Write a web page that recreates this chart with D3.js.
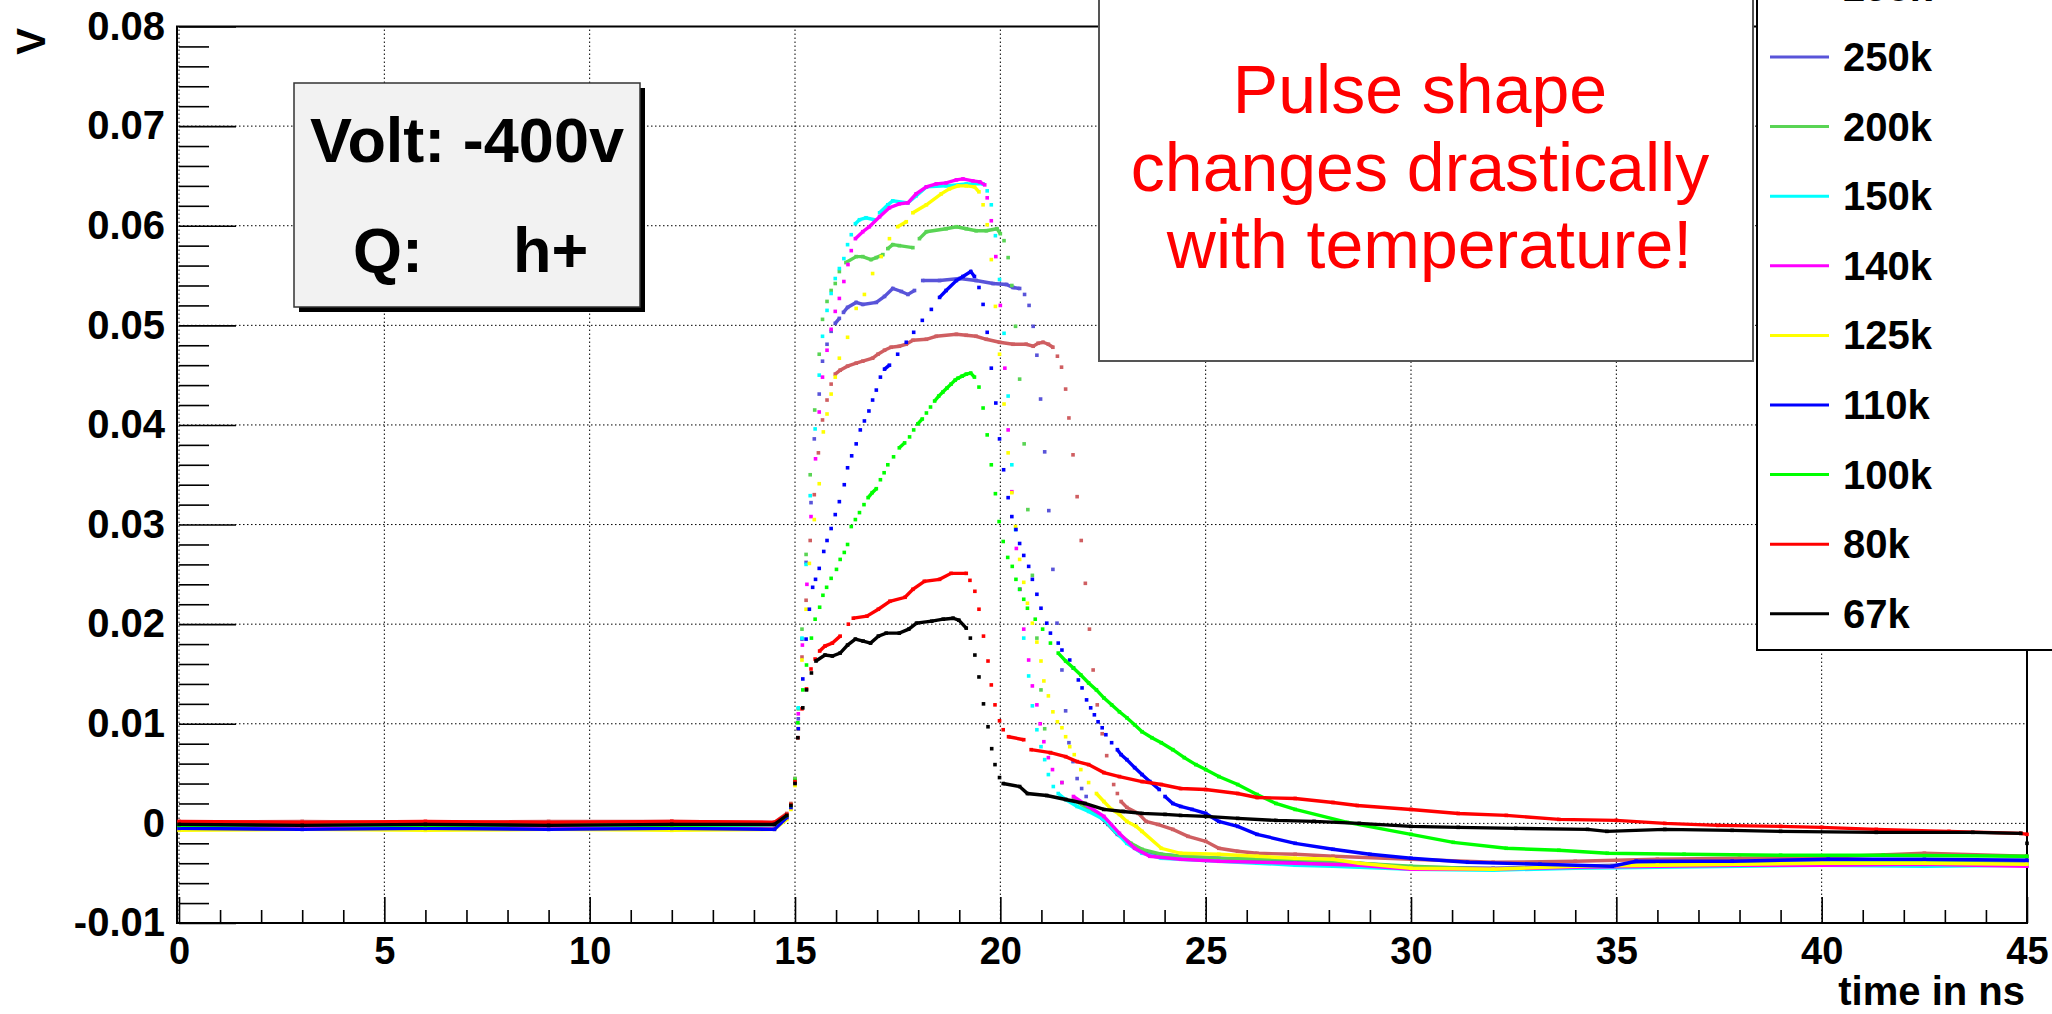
<!DOCTYPE html>
<html lang="en">
<head>
    <meta charset="UTF-8">
    <title>Pulse shape vs temperature</title>
    <script src="https://d3js.org/d3.v7.min.js"></script>
    <style>
        * { margin: 0; padding: 0; }
        body { background: white; overflow: hidden; }
        text { font-family: "Liberation Sans", Arial, Helvetica, sans-serif; }
        .bold { font-weight: bold; }
    </style>
</head>
<body>
<svg id="chart" width="2052" height="1014"></svg>
<script>
// legend order, top to bottom (first entry is cut off by the image border)
const labels = ["295k", "250k", "200k", "150k", "140k", "125k", "110k", "100k", "80k", "67k"];
const colors = ["#cf5e61", "#5954d9", "#59d454", "#00ffff", "#ff00ff", "#ffff00", "#0000ff", "#00ff00", "#ff0000", "#000000"];

const xMajor = [0, 5, 10, 15, 20, 25, 30, 35, 40, 45];
const yMajor = [-0.01, 0, 0.01, 0.02, 0.03, 0.04, 0.05, 0.06, 0.07, 0.08];

// [time in ns, volts]
const d295k = [[0,0.0001],[3,0.0002],[6,0.0001],[9,0.0002],[12,0.0002],[14.5,0.0001],[14.8,0.001],[14.9,0.002],[15.0,0.0045],[15.08,0.0095],[15.17,0.0167],[15.27,0.0224],[15.37,0.0284],[15.47,0.033],[15.57,0.0372],[15.67,0.0405],[15.78,0.0425],[15.88,0.0441],[15.98,0.0451],[16.1,0.0455],[16.28,0.0459],[16.49,0.0462],[16.65,0.0464],[16.89,0.0467],[17.02,0.0471],[17.18,0.0475],[17.34,0.0478],[17.54,0.0479],[17.71,0.0481],[17.87,0.0485],[18.2,0.0486],[18.44,0.0489],[18.93,0.0491],[19.17,0.049],[19.41,0.0489],[19.66,0.0486],[19.98,0.0483],[20.31,0.0481],[20.63,0.0481],[20.8,0.0479],[20.92,0.0482],[21.04,0.0483],[21.17,0.0481],[21.28,0.0478],[21.39,0.0469],[21.49,0.0458],[21.59,0.0436],[21.67,0.0407],[21.77,0.037],[21.87,0.0328],[21.97,0.0284],[22.07,0.0241],[22.17,0.0195],[22.26,0.0154],[22.36,0.0119],[22.48,0.009],[22.59,0.0068],[22.76,0.0039],[22.85,0.003],[22.94,0.0022],[23.08,0.0016],[23.36,0.001],[23.55,0.0002],[23.83,-0.0001],[24.2,-0.0006],[24.57,-0.0013],[25,-0.0018],[25.32,-0.0025],[25.78,-0.0028],[26.25,-0.003],[27.18,-0.0031],[28.1,-0.0033],[30,-0.0036],[32,-0.0039],[34,-0.0038],[36,-0.0036],[38,-0.0035],[40,-0.0034],[42.5,-0.003],[45,-0.0033]];
const d250k = [[0,-0.0002],[3,-0.0003],[6,-0.0002],[9,-0.0003],[12,-0.0002],[14.5,-0.0003],[14.8,0.0008],[14.9,0.0018],[15.0,0.0043],[15.08,0.0105],[15.17,0.0185],[15.27,0.0262],[15.39,0.0322],[15.47,0.0386],[15.59,0.0431],[15.67,0.0464],[15.78,0.0481],[15.88,0.0494],[15.98,0.0502],[16.08,0.0507],[16.18,0.0513],[16.28,0.0518],[16.49,0.0523],[16.65,0.0521],[16.98,0.0523],[17.18,0.0529],[17.38,0.0537],[17.59,0.0534],[17.75,0.0531],[17.91,0.0535],[18.11,0.0545],[18.52,0.0545],[19.01,0.0547],[19.41,0.0545],[19.82,0.0542],[20.15,0.0541],[20.31,0.0538],[20.47,0.0537],[20.59,0.0531],[20.7,0.052],[20.8,0.0499],[20.89,0.047],[20.98,0.0426],[21.08,0.0373],[21.18,0.0314],[21.28,0.0255],[21.38,0.0201],[21.5,0.0154],[21.59,0.0113],[21.67,0.0081],[21.77,0.0062],[21.87,0.0045],[21.98,0.0035],[22.09,0.0027],[22.34,0.001],[22.62,-0.0001],[22.85,-0.0011],[23.27,-0.0023],[23.64,-0.003],[24.39,-0.0033],[25.78,-0.0036],[27.18,-0.0038],[28.74,-0.004],[30,-0.0044],[32,-0.0045],[34,-0.0043],[36,-0.0041],[38,-0.004],[40,-0.004],[42.5,-0.0039],[45,-0.004]];
const d200k = [[0,-0.0001],[3,-0.0002],[6,-0.0001],[9,-0.0002],[12,-0.0001],[14.5,-0.0002],[14.8,0.0008],[14.9,0.0019],[15.0,0.0045],[15.08,0.0115],[15.17,0.0195],[15.27,0.027],[15.37,0.035],[15.48,0.0415],[15.59,0.0471],[15.67,0.0506],[15.78,0.0524],[15.88,0.0535],[15.98,0.0542],[16.08,0.0554],[16.24,0.0563],[16.49,0.0569],[16.65,0.0569],[16.85,0.0566],[16.98,0.0568],[17.14,0.0571],[17.26,0.0577],[17.38,0.0581],[17.54,0.058],[17.87,0.0578],[18.03,0.0587],[18.2,0.0594],[18.68,0.0597],[18.93,0.0599],[19.17,0.0597],[19.41,0.0595],[19.66,0.0595],[19.92,0.0597],[20.0,0.0592],[20.09,0.0585],[20.19,0.0568],[20.28,0.054],[20.37,0.0499],[20.47,0.0446],[20.58,0.0381],[20.67,0.0315],[20.78,0.0249],[20.89,0.0186],[20.99,0.0134],[21.08,0.0095],[21.22,0.0071],[21.5,0.0041],[21.78,0.0024],[22.15,0.0014],[22.52,0.0004],[22.8,-0.0008],[23.18,-0.002],[23.45,-0.0026],[23.92,-0.0031],[24.39,-0.0033],[25.32,-0.0035],[27.18,-0.0036],[28.74,-0.004],[30,-0.0043],[32,-0.0046],[34,-0.0044],[36,-0.0042],[38,-0.004],[40,-0.004],[42.5,-0.0038],[45,-0.0037]];
const d150k = [[0,-0.0004],[3,-0.0005],[6,-0.0004],[9,-0.0005],[12,-0.0004],[14.5,-0.0005],[14.8,0.0006],[14.9,0.0017],[15.0,0.0042],[15.08,0.0116],[15.17,0.0186],[15.27,0.026],[15.37,0.0329],[15.49,0.0396],[15.59,0.045],[15.67,0.0489],[15.78,0.0515],[15.88,0.0532],[15.98,0.0547],[16.08,0.0557],[16.19,0.0567],[16.28,0.0581],[16.37,0.0591],[16.47,0.0602],[16.57,0.0606],[16.73,0.0608],[16.93,0.0606],[17.06,0.0613],[17.26,0.0621],[17.38,0.0625],[17.75,0.0623],[17.95,0.063],[18.2,0.0639],[18.68,0.064],[19.17,0.0642],[19.58,0.0642],[19.68,0.0635],[19.78,0.0621],[19.88,0.059],[19.98,0.0546],[20.09,0.0492],[20.19,0.0429],[20.28,0.036],[20.37,0.0295],[20.47,0.0235],[20.57,0.0186],[20.69,0.0148],[20.78,0.0118],[20.89,0.0094],[20.99,0.0077],[21.08,0.0064],[21.17,0.0049],[21.29,0.0037],[21.41,0.003],[21.59,0.0024],[21.87,0.0017],[22.15,0.0012],[22.52,0.0004],[22.8,-0.0008],[23.08,-0.002],[23.45,-0.003],[23.92,-0.0035],[24.39,-0.0036],[25.32,-0.0038],[26.25,-0.004],[27.18,-0.0042],[28.1,-0.0043],[30,-0.0046],[32,-0.0047],[34,-0.0045],[36,-0.0044],[38,-0.0043],[40,-0.0042],[42.5,-0.0043],[45,-0.0042]];
const d140k = [[0,-0.0006],[3,-0.0005],[6,-0.0006],[9,-0.0005],[12,-0.0006],[14.5,-0.0005],[14.8,0.0005],[14.9,0.0015],[15.0,0.004],[15.08,0.011],[15.18,0.0179],[15.29,0.024],[15.39,0.0308],[15.5,0.0366],[15.59,0.0413],[15.67,0.0448],[15.78,0.0475],[15.88,0.0496],[15.98,0.0514],[16.08,0.0527],[16.19,0.0544],[16.29,0.0561],[16.37,0.0575],[16.47,0.0587],[16.65,0.0594],[16.81,0.0599],[17.06,0.0609],[17.3,0.0618],[17.54,0.0622],[17.75,0.0623],[17.95,0.0632],[18.2,0.0639],[18.44,0.0642],[18.68,0.0643],[18.93,0.0646],[19.09,0.0647],[19.33,0.0645],[19.5,0.0644],[19.62,0.0641],[19.68,0.0628],[19.78,0.0605],[19.89,0.0569],[20.0,0.052],[20.11,0.0457],[20.19,0.0395],[20.28,0.0333],[20.39,0.0276],[20.48,0.0235],[20.57,0.0195],[20.69,0.0164],[20.78,0.0138],[20.89,0.0119],[20.97,0.01],[21.06,0.0082],[21.17,0.0066],[21.27,0.0054],[21.5,0.0041],[21.78,0.0027],[22.15,0.0017],[22.52,0.0007],[22.9,-0.001],[23.27,-0.0025],[23.64,-0.0033],[24.39,-0.0036],[25.32,-0.0038],[27.18,-0.004],[28.74,-0.0042],[30,-0.0046],[32,-0.0046],[34,-0.0044],[36,-0.0043],[38,-0.0042],[40,-0.0042],[42.5,-0.0041],[45,-0.0043]];
const d125k = [[0,-0.0007],[3,-0.0006],[6,-0.0007],[9,-0.0006],[12,-0.0007],[14.5,-0.0006],[14.8,0.0004],[14.9,0.0014],[15.0,0.0038],[15.08,0.0095],[15.17,0.0164],[15.27,0.0215],[15.35,0.0261],[15.47,0.0305],[15.59,0.0341],[15.69,0.0393],[15.78,0.0411],[15.88,0.0431],[15.98,0.0448],[16.08,0.0467],[16.28,0.0488],[16.49,0.0517],[16.69,0.0531],[16.89,0.0552],[17.1,0.0569],[17.3,0.0587],[17.5,0.0599],[17.71,0.0604],[17.87,0.0613],[18.2,0.0621],[18.56,0.0632],[18.76,0.0637],[18.97,0.064],[19.17,0.064],[19.37,0.0639],[19.48,0.0634],[19.58,0.0621],[19.68,0.0601],[19.78,0.0566],[19.88,0.0519],[19.98,0.0471],[20.09,0.0421],[20.19,0.0372],[20.28,0.0332],[20.37,0.0298],[20.47,0.0265],[20.57,0.0242],[20.66,0.0221],[20.78,0.0201],[20.89,0.0182],[20.99,0.0163],[21.06,0.0143],[21.17,0.0128],[21.28,0.0112],[21.39,0.0102],[21.5,0.0096],[21.59,0.0087],[21.69,0.0077],[21.8,0.0069],[21.96,0.0054],[22.15,0.0041],[22.34,0.003],[22.52,0.0022],[22.71,0.0014],[22.9,0.0009],[23.08,0.0002],[23.31,-0.0003],[23.45,-0.0008],[23.92,-0.0025],[24.39,-0.003],[25.32,-0.0031],[26.25,-0.0033],[27.18,-0.0035],[28.1,-0.0036],[28.74,-0.004],[30,-0.0045],[32,-0.0046],[34,-0.0043],[36,-0.0042],[38,-0.0041],[40,-0.004],[42.5,-0.004],[45,-0.0041]];
const d110k = [[0,-0.0005],[3,-0.0006],[6,-0.0005],[9,-0.0006],[12,-0.0005],[14.5,-0.0006],[14.8,0.0006],[14.9,0.0016],[15.0,0.0041],[15.08,0.0095],[15.19,0.0145],[15.27,0.0185],[15.35,0.0215],[15.43,0.0237],[15.5,0.0245],[15.59,0.0256],[15.7,0.0273],[15.78,0.0284],[15.88,0.0296],[15.98,0.031],[16.08,0.0323],[16.2,0.034],[16.28,0.0357],[16.38,0.0369],[16.49,0.0381],[16.59,0.0395],[16.69,0.0404],[16.8,0.0414],[16.89,0.0425],[16.98,0.0435],[17.08,0.0448],[17.18,0.0456],[17.3,0.046],[17.5,0.0471],[17.71,0.0483],[17.89,0.0493],[18.1,0.0505],[18.32,0.0516],[18.52,0.0528],[18.68,0.0535],[18.93,0.0545],[19.09,0.0549],[19.28,0.0554],[19.37,0.0549],[19.48,0.0538],[19.58,0.0521],[19.68,0.0493],[19.78,0.0457],[19.89,0.0422],[19.98,0.0386],[20.08,0.0355],[20.19,0.0327],[20.28,0.0308],[20.38,0.0295],[20.47,0.0281],[20.57,0.0269],[20.69,0.0258],[20.78,0.0245],[20.89,0.023],[20.99,0.0216],[21.13,0.0201],[21.22,0.0191],[21.41,0.0181],[21.5,0.0174],[21.69,0.0164],[21.78,0.0156],[21.9,0.0144],[21.99,0.0136],[22.1,0.0124],[22.2,0.0116],[22.29,0.0109],[22.38,0.0102],[22.48,0.0096],[22.57,0.0089],[22.71,0.0081],[22.85,0.0074],[22.94,0.0069],[23.08,0.0064],[23.27,0.0056],[23.45,0.0049],[23.64,0.0042],[23.87,0.0034],[24.01,0.0027],[24.2,0.002],[24.39,0.0017],[24.67,0.0014],[25,0.001],[25.32,0.0002],[25.78,-0.0003],[26.25,-0.0011],[27.18,-0.002],[28.1,-0.0026],[29,-0.0031],[30,-0.0035],[31.38,-0.0039],[33.14,-0.0041],[34.9,-0.0043],[35.48,-0.0038],[37.82,-0.0038],[40.16,-0.0036],[42.5,-0.0036],[45,-0.0037]];
const d100k = [[0,-0.0002],[3,-0.0001],[6,-0.0002],[9,-0.0001],[12,-0.0002],[14.5,-0.0001],[14.8,0.0008],[14.9,0.0018],[15.0,0.0043],[15.07,0.0101],[15.19,0.0134],[15.28,0.0159],[15.4,0.0186],[15.49,0.0205],[15.6,0.0217],[15.68,0.0229],[15.77,0.0237],[15.88,0.0246],[16.01,0.0255],[16.1,0.0265],[16.2,0.0272],[16.28,0.028],[16.37,0.0298],[16.47,0.0305],[16.57,0.0312],[16.68,0.032],[16.78,0.0327],[16.88,0.0332],[16.98,0.0336],[17.08,0.0345],[17.17,0.0352],[17.26,0.036],[17.4,0.0368],[17.54,0.0377],[17.67,0.0382],[17.79,0.0388],[17.89,0.0395],[17.99,0.0401],[18.1,0.0406],[18.2,0.0412],[18.3,0.0418],[18.4,0.0424],[18.5,0.0429],[18.6,0.0433],[18.7,0.0437],[18.8,0.0441],[18.9,0.0445],[18.97,0.0447],[19.07,0.0449],[19.17,0.0451],[19.28,0.0452],[19.37,0.0448],[19.48,0.0438],[19.58,0.0417],[19.68,0.039],[19.78,0.036],[19.88,0.0331],[19.97,0.0303],[20.07,0.0283],[20.18,0.0267],[20.29,0.0258],[20.38,0.0245],[20.47,0.0235],[20.57,0.0225],[20.66,0.0216],[20.85,0.0205],[21.03,0.0195],[21.22,0.0181],[21.41,0.0171],[21.59,0.0163],[21.78,0.0156],[21.96,0.0149],[22.15,0.0141],[22.34,0.0134],[22.52,0.0126],[22.71,0.0119],[22.9,0.0112],[23.08,0.0106],[23.27,0.0099],[23.45,0.0092],[23.69,0.0086],[23.92,0.0081],[24.2,0.0074],[24.48,0.0066],[24.76,0.0059],[25,0.0054],[25.32,0.0047],[25.78,0.0039],[26.25,0.0029],[26.71,0.002],[27.18,0.0014],[28.45,0.0001],[30,-0.0011],[31.03,-0.0019],[32.32,-0.0025],[33.6,-0.0027],[34.78,-0.003],[36.65,-0.0031],[39,-0.0032],[41.5,-0.0032],[45,-0.0033]];
const d80k = [[0,0.0002],[3,0.0001],[6,0.0002],[9,0.0001],[12,0.0002],[14.5,0.0001],[14.8,0.0009],[14.9,0.0019],[15.0,0.0042],[15.07,0.0086],[15.17,0.0115],[15.28,0.0135],[15.39,0.0155],[15.49,0.0165],[15.6,0.0173],[15.73,0.0178],[15.91,0.0181],[16.1,0.0188],[16.3,0.02],[16.42,0.0206],[16.75,0.0208],[17.03,0.0215],[17.31,0.0223],[17.68,0.0227],[17.87,0.0235],[18.15,0.0243],[18.52,0.0245],[18.8,0.0251],[19.17,0.0251],[19.26,0.0244],[19.38,0.0233],[19.48,0.0215],[19.59,0.0188],[19.7,0.0163],[19.78,0.0139],[19.87,0.0119],[19.98,0.0103],[20.07,0.0094],[20.2,0.0087],[20.57,0.0084],[20.75,0.0074],[21.22,0.0071],[21.59,0.0067],[21.87,0.0062],[22.15,0.0059],[22.52,0.0051],[22.9,0.0047],[23.45,0.0042],[23.92,0.0039],[24.39,0.0035],[25,0.0034],[25.78,0.003],[26.25,0.0026],[27.18,0.0025],[28.1,0.0021],[28.69,0.0018],[30,0.0014],[31.15,0.001],[32.32,0.0008],[33.6,0.0004],[35,0.0003],[36.18,0.0],[37.47,-0.0002],[39,-0.0003],[40,-0.0004],[41.33,-0.0006],[43.1,-0.0008],[44.85,-0.001],[45,-0.0011]];
const d67k = [[0,-0.0001],[3,-0.0002],[6,-0.0001],[9,-0.0002],[12,-0.0001],[14.5,-0.0001],[14.8,0.0008],[14.9,0.0018],[15.0,0.004],[15.07,0.0086],[15.19,0.0116],[15.28,0.0134],[15.4,0.0151],[15.51,0.0163],[15.73,0.0169],[15.91,0.0168],[16.1,0.0171],[16.28,0.0179],[16.47,0.0185],[16.66,0.0183],[16.84,0.0181],[17.03,0.0188],[17.22,0.0191],[17.54,0.0191],[17.77,0.0195],[17.96,0.0201],[18.33,0.0203],[18.61,0.0205],[18.85,0.0206],[18.99,0.0204],[19.17,0.0196],[19.27,0.0186],[19.38,0.0169],[19.48,0.0147],[19.59,0.012],[19.7,0.0097],[19.79,0.0075],[19.87,0.0059],[19.98,0.0046],[20.07,0.004],[20.47,0.0037],[20.66,0.003],[21.13,0.0028],[21.59,0.0024],[22.06,0.002],[22.52,0.0014],[22.99,0.0012],[23.45,0.001],[24.01,0.0009],[24.39,0.0008],[25,0.0007],[25.78,0.0005],[26.71,0.0003],[27.64,0.0002],[28.74,0.0],[30,-0.0003],[31.15,-0.0004],[32.55,-0.0005],[34.3,-0.0006],[34.77,-0.0008],[36.18,-0.0006],[37.82,-0.0007],[39,-0.0008],[41.33,-0.0009],[43.68,-0.0009],[44.85,-0.001],[45,-0.002]];

const seriesData = [d295k, d250k, d200k, d150k, d140k, d125k, d110k, d100k, d80k, d67k];

const svg = d3.select("#chart");
const x = d3.scaleLinear().domain([0, 45]).range([179, 2027]);
const y = d3.scaleLinear().domain([-0.01, 0.08]).range([923, 26.5]);

// grid (dotted, at major ticks)
const grid = svg.append("g").attr("stroke", "#000").attr("stroke-width", 1).attr("stroke-dasharray", "1.5,2.5");
grid.selectAll(".gx").data(xMajor).join("line")
    .attr("x1", d => x(d)).attr("x2", d => x(d)).attr("y1", y(-0.01)).attr("y2", y(0.08));
grid.selectAll(".gy").data(yMajor).join("line")
    .attr("x1", x(0)).attr("x2", x(45)).attr("y1", d => y(d)).attr("y2", d => y(d));

// axes
const yMinor = d3.range(-0.01, 0.0801, 0.002).filter(v => Math.abs(Math.round(v * 100) - v * 100) > 1e-6);
const xMinor = d3.range(0, 45.01, 1).filter(v => v % 5 !== 0);

const fmtY = d => d === 0 ? "0" : d3.format(".2f")(d).replace("\u2212", "-");

const yAxis = svg.append("g").attr("transform", `translate(${x(0)},0)`)
    .call(d3.axisLeft(y).tickValues(yMajor).tickSize(-57).tickPadding(14).tickFormat(fmtY));
svg.append("g").attr("transform", `translate(${x(0)},0)`)
    .call(d3.axisLeft(y).tickValues(yMinor).tickSize(-30).tickFormat(""))
    .select(".domain").remove();
const xAxis = svg.append("g").attr("transform", `translate(0,${y(-0.01)})`)
    .call(d3.axisBottom(x).tickValues(xMajor).tickSize(-26).tickPadding(14).tickFormat(d3.format("d")));
svg.append("g").attr("transform", `translate(0,${y(-0.01)})`)
    .call(d3.axisBottom(x).tickValues(xMinor).tickSize(-13).tickFormat(""))
    .select(".domain").remove();

svg.selectAll(".tick line").attr("stroke", "#000").attr("stroke-width", 1.6);
yAxis.selectAll("text").attr("class", "bold").style("font-size", "40px").attr("fill", "#000");
xAxis.selectAll("text").attr("class", "bold").style("font-size", "38px").attr("fill", "#000");

// frame
svg.append("rect")
    .attr("x", x(0) - 2).attr("y", y(0.08))
    .attr("width", x(45) - x(0) + 2).attr("height", y(-0.01) - y(0.08))
    .attr("fill", "none").attr("stroke", "#000").attr("stroke-width", 2);
svg.selectAll(".domain").remove();

// axis titles
svg.append("text").attr("class", "bold")
    .attr("x", 2025).attr("y", 1005)
    .attr("text-anchor", "end").style("font-size", "40px")
    .text("time in ns");
svg.append("text").attr("class", "bold")
    .attr("transform", "translate(45,28) rotate(-90)")
    .attr("text-anchor", "end").style("font-size", "40px")
    .text("V");

// series: dots at every reading, joined where the trace is flat enough to look continuous
const plot = svg.append("g");
const line = d3.line().x(d => x(d[0])).y(d => y(d[1]));

seriesData.forEach((pts, i) => {
    const g = plot.append("g");
    const runs = [];
    let cur = [pts[0]];
    for (let k = 1; k < pts.length; k++) {
        const dx = x(pts[k][0]) - x(pts[k - 1][0]);
        const dy = y(pts[k][1]) - y(pts[k - 1][1]);
        if (Math.abs(dy) <= Math.max(5, Math.abs(dx) * 1.15)) {
            cur.push(pts[k]);
        } else {
            runs.push(cur);
            cur = [pts[k]];
        }
    }
    runs.push(cur);

    g.selectAll("path").data(runs.filter(r => r.length > 1)).join("path")
        .attr("d", line)
        .attr("fill", "none")
        .attr("stroke", colors[i])
        .attr("stroke-width", 3.4)
        .attr("stroke-linejoin", "miter");

    g.selectAll("rect").data(pts).join("rect")
        .attr("x", d => x(d[0]) - 1.8)
        .attr("y", d => y(d[1]) - 1.8)
        .attr("width", 3.6).attr("height", 3.6)
        .attr("fill", colors[i]);
});

// "Volt / Q" box
svg.append("rect").attr("x", 299).attr("y", 88).attr("width", 346).attr("height", 224).attr("fill", "#000");
svg.append("rect").attr("x", 294).attr("y", 83).attr("width", 346).attr("height", 224)
    .attr("fill", "#f2f2f2").attr("stroke", "#333").attr("stroke-width", 1.5);
svg.append("text").attr("class", "bold")
    .attr("x", 467).attr("y", 162).attr("text-anchor", "middle")
    .style("font-size", "63px").text("Volt: -400v");
svg.append("text").attr("class", "bold")
    .attr("x", 353).attr("y", 272).style("font-size", "63px").text("Q:");
svg.append("text").attr("class", "bold")
    .attr("x", 513).attr("y", 272).style("font-size", "63px").text("h+");

// comment box
svg.append("rect").attr("x", 1099).attr("y", -10).attr("width", 654).attr("height", 371)
    .attr("fill", "#fff").attr("stroke", "#555").attr("stroke-width", 2);
const note = ["Pulse shape", "changes drastically", " with temperature!"];
svg.append("g").selectAll("text").data(note).join("text")
    .attr("x", 1420)
    .attr("y", (d, i) => 113 + i * 77.5)
    .attr("text-anchor", "middle")
    .style("font-size", "68px")
    .style("white-space", "pre")
    .attr("fill", "#ff0000")
    .text(d => d);

// legend
svg.append("rect").attr("x", 1757).attr("y", -10).attr("width", 320).attr("height", 660)
    .attr("fill", "#fff").attr("stroke", "#000").attr("stroke-width", 2);
const leg = svg.append("g").selectAll("g").data(labels).join("g")
    .attr("transform", (d, i) => `translate(0,${57 + (i - 1) * 69.6})`);
leg.append("line").attr("x1", 1770).attr("x2", 1829).attr("y1", 0).attr("y2", 0)
    .attr("stroke", (d, i) => colors[i]).attr("stroke-width", 3);
leg.append("text").attr("class", "bold")
    .attr("x", 1843).attr("y", 14).style("font-size", "40px")
    .text(d => d);
</script>
</body>
</html>
